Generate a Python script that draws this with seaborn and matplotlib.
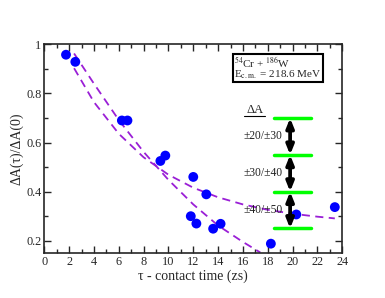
import numpy as np
import pandas as pd
import seaborn as sns
import matplotlib
matplotlib.use("Agg")
import matplotlib.pyplot as plt
from matplotlib.patches import FancyArrowPatch
from matplotlib.ticker import MultipleLocator, FormatStrFormatter

# pontos medidos (tau em zs, razao de largura de massa)
tau = [1.75, 2.5, 6.25, 6.7, 9.35, 9.75, 11.8, 12.0, 12.25, 13.05, 13.6, 14.2, 18.25, 20.3, 23.4]
razao = [0.958, 0.929, 0.69, 0.69, 0.525, 0.547, 0.30, 0.46, 0.27, 0.389, 0.249, 0.269, 0.188, 0.307, 0.337]

# curva tracejada que decai rapido
tau_rapida = [2.4, 4, 6, 8, 10, 12, 14, 16, 17.4]
razao_rapida = [0.963, 0.840, 0.692, 0.562, 0.448, 0.348, 0.262, 0.195, 0.152]

# curva tracejada que satura
tau_lenta = [2.4, 4, 6, 8, 10, 12, 14, 16, 18, 20, 22, 23.4]
razao_lenta = [0.903, 0.765, 0.636, 0.540, 0.469, 0.416, 0.377, 0.348, 0.326, 0.310, 0.298, 0.291]

# barras de erro em Delta A
niveis = [0.70, 0.55, 0.40, 0.25]
rotulos = ["\u00b120/\u00b130", "\u00b130/\u00b140", "\u00b140/\u00b150"]

sns.set_style("ticks")
plt.rcParams['font.family'] = ['Liberation Serif', 'DejaVu Serif']
plt.rcParams['mathtext.fontset'] = 'stix'
plt.rcParams['xtick.direction'] = 'in'
plt.rcParams['ytick.direction'] = 'in'

fig = plt.figure(figsize=(3.85, 2.98), dpi=100)
ax = fig.add_axes([0.115, 0.151, 0.774, 0.700])

cor_linha = '#9a1fd6'
sns.lineplot(x=tau_rapida, y=razao_rapida, ax=ax, color=cor_linha, lw=1.3,
             dashes=False, linestyle=(0, (4.5, 3)), zorder=2)
sns.lineplot(x=tau_lenta, y=razao_lenta, ax=ax, color=cor_linha, lw=1.3,
             dashes=False, linestyle=(0, (4.5, 3)), zorder=2)
sns.scatterplot(x=tau, y=razao, ax=ax, color='#0000ff', s=50, edgecolor='none', zorder=3)

# linhas verdes e setas
for n in niveis:
    ax.plot([18.5, 21.5], [n, n], color='#00ff00', lw=2.5, zorder=2)
for i in range(len(rotulos)):
    seta = FancyArrowPatch((19.8, niveis[i]), (19.8, niveis[i + 1]),
                           arrowstyle='<|-|>,head_length=0.9,head_width=0.36',
                           mutation_scale=6, lw=2.7, color='black',
                           shrinkA=0, shrinkB=0, zorder=4)
    ax.add_patch(seta)
    ax.text(17.65, (niveis[i] + niveis[i + 1]) / 2, rotulos[i], fontsize=8.3,
            ha='center', va='center', color='#222222', zorder=5)
ax.text(16.95, 0.71, "\u0394A", fontsize=9, ha='center', va='bottom')
ax.plot([16.1, 17.8], [0.707, 0.707], color='black', lw=0.8)

ax.text(15.3, 0.905, "$^{54}$Cr + $^{186}$W\nE$_{\\rm c.m.}$ = 218.6 MeV", fontsize=8,
        ha='left', va='center', linespacing=0.85,
        bbox=dict(boxstyle='square,pad=0.15', fc='white', ec='black', lw=1.5))

ax.set_xlim(0, 24)
ax.set_ylim(0.15, 1)
ax.xaxis.set_major_locator(MultipleLocator(2))
ax.xaxis.set_minor_locator(MultipleLocator(1))
ax.yaxis.set_major_locator(MultipleLocator(0.2))
ax.yaxis.set_minor_locator(MultipleLocator(0.1))
ax.xaxis.set_major_formatter(FormatStrFormatter('%g'))
ax.yaxis.set_major_formatter(FormatStrFormatter('%g'))
ax.tick_params(which='both', top=True, right=True, labelsize=8.8, width=1, pad=2)
ax.tick_params(which='major', length=5)
ax.tick_params(which='minor', length=3)
for s in ax.spines.values():
    s.set_linewidth(1.2)

ax.set_xlabel("\u03c4 - contact time (zs)", fontsize=10, labelpad=1)
ax.set_ylabel("\u0394A(\u03c4)/\u0394A(0)", fontsize=10, labelpad=2)

fig.savefig("out.png", dpi=100)
